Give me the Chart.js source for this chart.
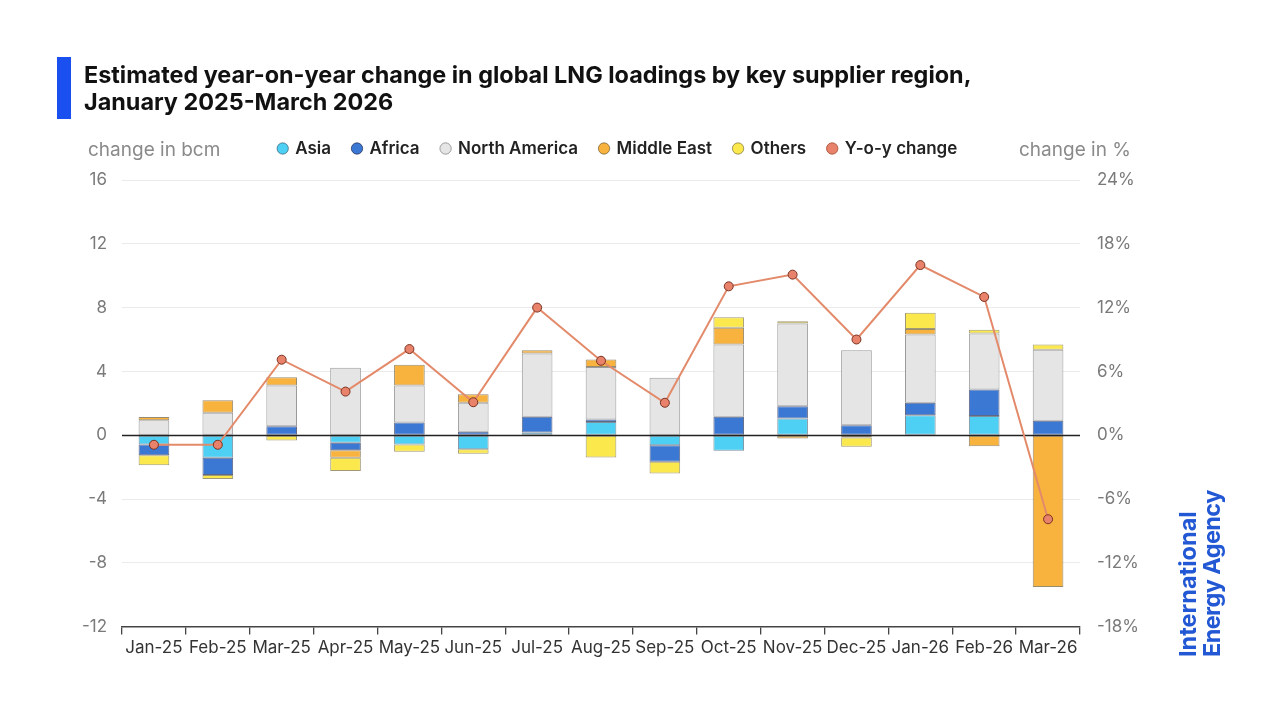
<!DOCTYPE html>
<html>
<head>
<meta charset="utf-8">
<script src="https://cdn.jsdelivr.net/npm/chart.js@4"></script>
<style>
  body { margin: 0; background: #fff; font-family: Inter, "Noto Sans", sans-serif; }
  #wrap { position: absolute; left: 0; top: 0; width: 1276px; height: 716px; }
  .bar { position: absolute; left: 57px; top: 57px; width: 14px; height: 62px; background: #1a4ff0; }
  .title { position: absolute; left: 84px; top: 61px; font-size: 23.4px; font-weight: 700; line-height: 27px; color: #111; }
  .axis-title { position: absolute; top: 138px; font-size: 19px; color: #8a8a8a; }
  .logo { position: absolute; left: 1176px; top: 657px; transform-origin: left top; transform: rotate(-90deg);
          font-size: 23.5px; font-weight: 700; line-height: 24px; color: #2358d4; white-space: nowrap; }
  .logo span { letter-spacing: -0.6px; }
</style>
</head>
<body>
<div id="wrap"><canvas id="chart"></canvas></div>
<div class="bar"></div>
<div class="title">Estimated year-on-year change in global LNG loadings by key supplier region,<br>January 2025-March 2026</div>
<div class="axis-title" style="left:88px">change in bcm</div>
<div class="axis-title" style="left:1019px">change in %</div>
<div class="logo">International<br><span>Energy Agency</span></div>
<script>
// ===============================
// Data (bcm, y-o-y %)
// ===============================
const months = ["Jan-25", "Feb-25", "Mar-25", "Apr-25", "May-25", "Jun-25", "Jul-25", "Aug-25",
  "Sep-25", "Oct-25", "Nov-25", "Dec-25", "Jan-26", "Feb-26", "Mar-26"];
const asia = [-0.58, -1.42, 0, -0.48, -0.58, -0.88, 0.17, 0.83, -0.63, -0.98, 1.04, 0, 1.25, 1.21, 0];
const africa = [-0.67, -1.08, 0.56, -0.46, 0.79, 0.21, 0.98, 0.15, -1.04, 1.15, 0.77, 0.63, 0.79, 1.65, 0.9];
const northAmerica = [0.94, 1.4, 2.56, 4.23, 2.33, 1.83, 3.98, 3.29, 3.6, 4.54, 5.2, 4.69, 4.27, 3.52, 4.46];
const middleEast = [0.2, 0.79, 0.52, -0.48, 1.29, 0.52, 0.19, 0.48, 0, 1.04, -0.2, -0.15, 0.35, -0.69, -9.52];
const others = [-0.63, -0.25, -0.33, -0.83, -0.46, -0.29, 0, -1.4, -0.73, 0.67, 0.13, -0.58, 1.02, 0.23, 0.33];
const yoyChange = [-0.9, -0.9, 7.1, 4.1, 8.1, 3.1, 12.0, 7.0, 3.05, 14.0, 15.1, 9.0, 16.0, 13.0, -7.9];

const leftTicks = { min: -12, max: 16, step: 4 };
const rightTicks = { min: -18, max: 24, step: 6 };

const FONT = "Inter, 'Noto Sans', sans-serif";

function barSet(label, data, color, border) {
  return {
    type: "bar",
    label,
    data,
    backgroundColor: color,
    borderColor: border,
    borderWidth: 1,
    borderSkipped: false,
    yAxisID: "y",
    stack: "s",
    order: 1,
    categoryPercentage: 1,
    barPercentage: 0.48
  };
}

// zero line goes over the bars, under the y-o-y line
const zeroLine = {
  id: "zeroLine",
  afterDatasetDraw(chart, args) {
    if (args.index !== 0) return;
    const y = Math.round(chart.scales.y.getPixelForValue(0)) + 0.5;
    const { left, right } = chart.chartArea;
    const ctx = chart.ctx;
    ctx.save();
    ctx.strokeStyle = "#222";
    ctx.lineWidth = 1.3;
    ctx.beginPath();
    ctx.moveTo(left, y);
    ctx.lineTo(right, y);
    ctx.stroke();
    ctx.restore();
  }
};

// extra space under legend + nudge it left like the original
const legendSpace = {
  id: "legendSpace",
  beforeInit(chart) {
    const fit = chart.legend.fit;
    chart.legend.fit = function () {
      fit.bind(chart.legend)();
      this.height += 13;
    };
  },
  afterLayout(chart) {
    chart.legend.left -= 20;
    chart.legend.right -= 20;
  }
};

new Chart(document.getElementById("chart").getContext("2d"), {
  data: {
    labels: months,
    datasets: [
      barSet("Asia", asia, "#4dd0f4", "rgba(40,70,90,0.6)"),
      barSet("Africa", africa, "#3b78d3", "rgba(30,40,80,0.7)"),
      barSet("North America", northAmerica, "#e5e5e5", "#9a9a9a"),
      barSet("Middle East", middleEast, "#f8b23e", "rgba(110,90,50,0.7)"),
      barSet("Others", others, "#fbe84c", "rgba(120,110,60,0.7)"),
      {
        type: "line",
        label: "Y-o-y change",
        data: yoyChange,
        yAxisID: "y1",
        order: 0,
        borderColor: "#e38a6b",
        backgroundColor: "#e8826a",
        borderWidth: 2,
        pointRadius: 4.5,
        pointHoverRadius: 5,
        pointBackgroundColor: "#e8826a",
        pointBorderColor: "#7a3322",
        pointBorderWidth: 1,
        tension: 0
      }
    ]
  },
  options: {
    responsive: true,
    maintainAspectRatio: false,
    animation: false,
    layout: { padding: { top: 118, bottom: 55, left: 0, right: 0 } },
    plugins: {
      legend: {
        position: "top",
        labels: {
          usePointStyle: true,
          pointStyle: "circle",
          boxWidth: 8,
          boxHeight: 8,
          padding: 22,
          color: "#222",
          font: { size: 17, weight: "600", family: FONT },
          sort: (a, b) => a.datasetIndex - b.datasetIndex,
          generateLabels(chart) {
            const items = Chart.defaults.plugins.legend.labels.generateLabels(chart);
            items.forEach(it => {
              it.lineWidth = 1;
              if (it.text === "Y-o-y change") it.strokeStyle = "#b05a40";
            });
            return items;
          }
        }
      },
      tooltip: { enabled: false }
    },
    scales: {
      x: {
        stacked: true,
        grid: {
          offset: true,
          drawOnChartArea: false,
          drawTicks: true,
          tickLength: 8,
          color: "#444",
          lineWidth: 1.3
        },
        border: { display: true, color: "#444", width: 1.5 },
        ticks: {
          color: "#333",
          padding: 3,
          maxRotation: 0,
          autoSkip: false,
          font: { size: 17, family: FONT }
        }
      },
      y: {
        stacked: true,
        position: "left",
        min: leftTicks.min,
        max: leftTicks.max,
        afterFit: scale => { scale.width = 122; },
        grid: { color: "#ebebeb", drawTicks: false, lineWidth: 1 },
        border: { display: false },
        ticks: {
          stepSize: leftTicks.step,
          padding: 15,
          color: "#7a7a7a",
          font: { size: 17, family: FONT }
        }
      },
      y1: {
        position: "right",
        min: rightTicks.min,
        max: rightTicks.max,
        afterFit: scale => { scale.width = 196; },
        grid: { drawOnChartArea: false, drawTicks: false },
        border: { display: false },
        ticks: {
          stepSize: rightTicks.step,
          padding: 17,
          color: "#7a7a7a",
          font: { size: 17, family: FONT },
          callback: v => v + "%"
        }
      }
    }
  },
  plugins: [zeroLine, legendSpace]
});
</script>
</body>
</html>
